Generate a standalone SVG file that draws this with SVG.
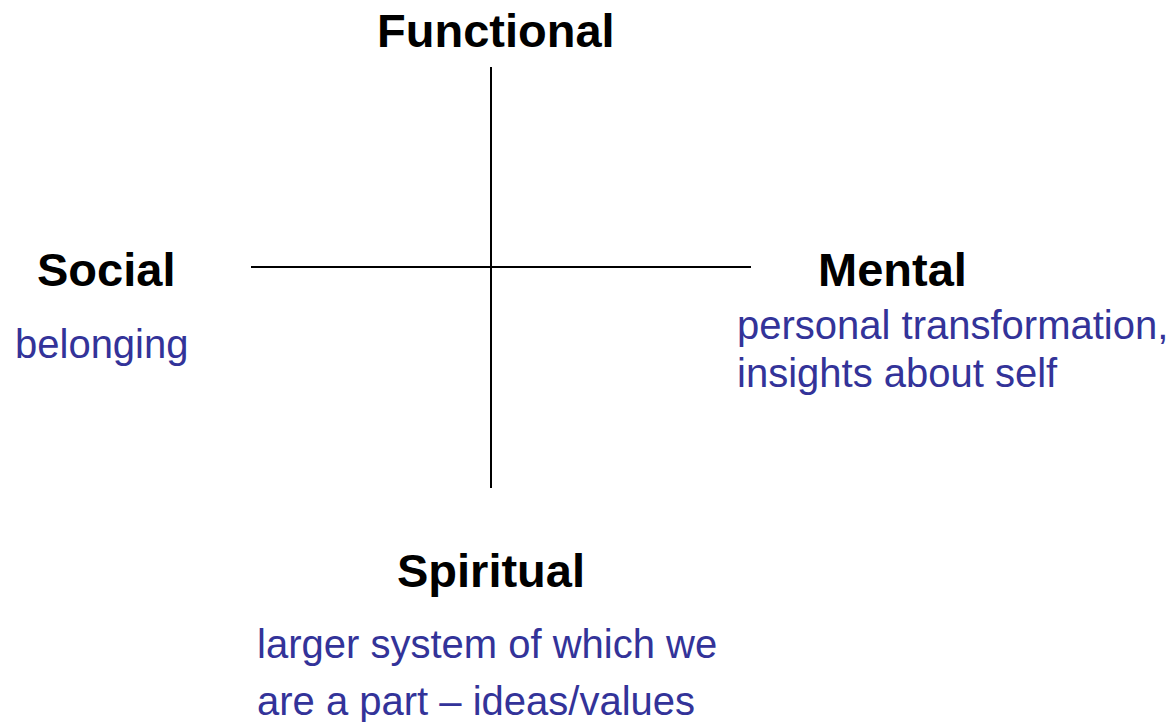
<svg xmlns="http://www.w3.org/2000/svg" width="1170" height="722" viewBox="0 0 1170 722">
<style>
.t{font-family:"Liberation Sans",Arial,sans-serif;font-weight:bold;font-size:47px;fill:#000}
.d{font-family:"Liberation Sans",Arial,sans-serif;font-size:40px;fill:#333399}
.ax{stroke:#000;stroke-width:2;fill:none}
</style>
<rect width="1170" height="722" fill="#fff"/>
<g id="connectors">
<line class="ax" x1="491" y1="67" x2="491" y2="488"/>
<line class="ax" x1="251" y1="267" x2="751" y2="267"/>
</g>
<g id="functional"><text class="t" x="377" y="47">Functional</text></g>
<g id="social"><text class="t" x="37" y="286">Social</text><text class="d" x="15" y="358">belonging</text></g>
<g id="mental"><text class="t" x="818" y="286">Mental</text><text class="d" x="737" y="339">personal transformation,</text><text class="d" x="737" y="387">insights about self</text></g>
<g id="spiritual"><text class="t" x="397" y="587">Spiritual</text><text class="d" x="257" y="658">larger system of which we</text><text class="d" x="257" y="715">are a part – ideas/values</text></g>
</svg>
